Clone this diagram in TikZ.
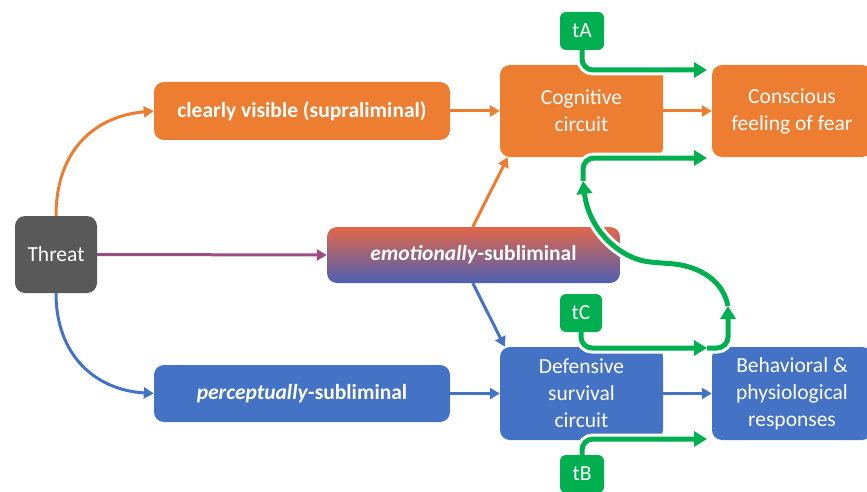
\documentclass[tikz,border=0pt]{standalone}
\usepackage{fontspec}
\setmainfont{Carlito}
\usetikzlibrary{arrows.meta,calc}
\definecolor{cOr}{HTML}{ED7D31}
\definecolor{cBl}{HTML}{4472C4}
\definecolor{cGr}{HTML}{00B050}
\definecolor{cGy}{HTML}{595959}
\definecolor{cPu}{HTML}{9A4F80}
\definecolor{cTop}{HTML}{E2674A}
\definecolor{cBot}{HTML}{4D5FB2}
\pgfdeclarelayer{fg}
\pgfsetlayers{main,fg}
\begin{document}
\begin{tikzpicture}[x=1pt,y=-1pt,
  box/.style={rounded corners=10pt, inner sep=0pt, text=white, align=center,
    font=\fontsize{21.5}{27}\selectfont},
  tbox/.style={rounded corners=6pt, inner sep=0pt, text=white, fill=cGr,
    font=\fontsize{21.5}{24}\selectfont},
  arr/.style={line width=3pt, -{Triangle[length=10pt,width=11pt]}},
  gline/.style={draw=cGr, line width=5pt, rounded corners=11pt,
    -{Triangle[length=13pt,width=15pt]},
    preaction={draw=white, line width=11pt}}
]
\useasboundingbox (0,0) rectangle (867,492);

% main boxes
\node[box, fill=cGy, minimum width=82pt, minimum height=77pt] (threat) at (56,254.5) {Threat};
\node[box, fill=cOr, minimum width=296pt, minimum height=58pt] (clear) at (302,111) {\bfseries clearly visible (supraliminal)};
\node[box, top color=cTop, bottom color=cBot, minimum width=293pt, minimum height=56pt] (emo) at (473.5,255) {\bfseries\textit{emotionally}-subliminal};
\node[box, fill=cBl, minimum width=296pt, minimum height=57pt] (perc) at (302,393.5) {\bfseries\textit{perceptually}-subliminal};
\node[box, fill=cOr, minimum width=163pt, minimum height=92pt] (cog) at (581.5,111) {Cognitive\\circuit};
\node[box, fill=cOr, minimum width=160pt, minimum height=92pt] (fear) at (792,111) {Conscious\\feeling of fear};
\node[box, fill=cBl, minimum width=163pt, minimum height=93pt] (def) at (581.5,393.5) {Defensive\\survival\\circuit};
\node[box, fill=cBl, minimum width=160pt, minimum height=93pt] (beh) at (792,393.5) {Behavioral \&\\physiological\\responses};

\begin{pgfonlayer}{fg}
\node[tbox, minimum width=44pt, minimum height=38pt] (tA) at (582,31) {tA};
\node[tbox, minimum width=42pt, minimum height=38pt] (tC) at (581,313) {tC};
\node[tbox, minimum width=44pt, minimum height=38pt] (tB) at (582,474) {tB};
\end{pgfonlayer}

% free ends
\coordinate (eA) at (707,70);
\coordinate (eC) at (707,348);
\coordinate (hS) at (707,348);
\coordinate (hE) at (728,306);
\coordinate (up) at (583,181);
\coordinate (eU) at (707,158);
\coordinate (eB) at (707,439);

% connectors from threat
\draw[arr, cOr] (threat.north) .. controls (56,150) and (95,116) .. (clear.west);
\draw[arr, cBl] (threat.south) .. controls (56,355) and (95,390) .. (perc.west);
\draw[arr, cPu] (threat.east) -- (emo.west);

\draw[arr, cOr] (clear.east) -- (cog.west);
\draw[arr, cOr] (cog.east) -- (fear.west);
\draw[arr, cBl] (perc.east) -- (def.west);
\draw[arr, cBl] (def.east) -- (beh.west);
\draw[arr, cOr] ($(emo.north west)+(146,0)$) -- ($(cog.south west)+(8,0)$);
\draw[arr, cBl] ($(emo.south west)+(146,0)$) -- ($(def.north west)+(5,0)$);

% green paths
\draw[gline] (tA.south) |- (eA);
\draw[gline] (tB.north) |- (eB);
\draw[gline] (tC.south) |- (eC);
\draw[gline] (hS) -| (hE);
\draw[gline] (hE) .. controls (722,276) and (692,265) .. (660,263)
  .. controls (622,259) and (589,232) .. (up);
\draw[gline] (up) |- (eU);
\end{tikzpicture}
\end{document}
